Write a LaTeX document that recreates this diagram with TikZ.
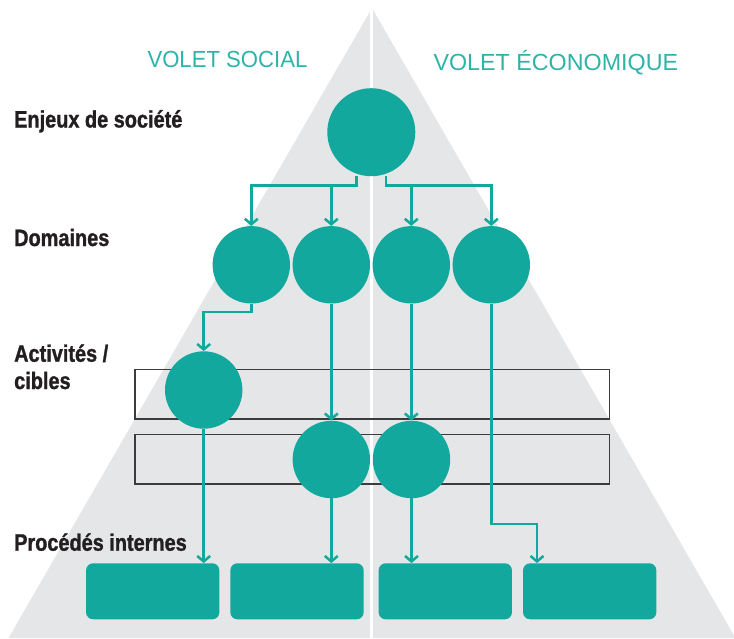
\documentclass[tikz,border=0pt]{standalone}
\usepackage{fontspec}
\setmainfont{Liberation Sans}
\newfontfamily\labfont[FakeStretch=0.84,BoldFeatures={FakeBold=1.2}]{Liberation Sans}
\newfontfamily\socfont[FakeStretch=0.95]{Liberation Sans}
\newfontfamily\ecofont[FakeStretch=1.0]{Liberation Sans}
\usetikzlibrary{arrows.meta}
\definecolor{teal1}{HTML}{13A89D}
\definecolor{tealtxt}{HTML}{2DB3A8}
\definecolor{pyr}{HTML}{E5E6E8}
\definecolor{frame}{HTML}{3C3C3C}
\definecolor{labtxt}{HTML}{231F20}
\pgfdeclarelayer{bg}
\pgfdeclarelayer{lines}
\pgfsetlayers{bg,lines,main}
\begin{document}
\begin{tikzpicture}[x=1pt,y=-1pt,
  bigdot/.style={circle,fill=teal1,inner sep=0pt,minimum size=88pt},
  dot/.style={circle,fill=teal1,inner sep=0pt,minimum size=77.4pt},
  procbox/.style={rectangle,rounded corners=7pt,fill=teal1,minimum width=133.3pt,minimum height=56pt,inner sep=0pt},
  band/.style={rectangle,draw=frame,line width=1.3pt,minimum width=474.3pt,minimum height=49.7pt,inner sep=0pt},
  link/.style={draw=teal1,line width=2.5pt,-{Straight Barb[length=5.5pt,width=13pt]}},
  lab/.style={font=\labfont\bfseries\fontsize{23.7}{27}\selectfont,text=labtxt,inner sep=0pt,anchor=base west},
  volet/.style={text=tealtxt,inner sep=0pt,anchor=base west}]
\useasboundingbox (0,0) rectangle (734,638);

% pyramid background
\begin{pgfonlayer}{bg}
  \clip (0,0) rectangle (734,638);
  \fill[pyr] (372,8) -- (735.5,638) -- (8.5,638) -- cycle;
  \draw[white,line width=3pt] (371.8,0) -- (371.8,640);
  \node[band] (r1) at (372.2,394.2) {};
  \node[band] (r2) at (372.2,459.2) {};
\end{pgfonlayer}

% texts
\node[volet,font=\socfont\fontsize{23.3}{26}\selectfont] (vs) at (147.3,67.3) {VOLET SOCIAL};
\node[volet,font=\ecofont\fontsize{23.3}{26}\selectfont] (ve) at (433.3,70) {VOLET ÉCONOMIQUE};
\node[lab] (l1) at (14,127.5) {Enjeux de société};
\node[lab] (l2) at (14,246) {Domaines};
\node[lab] (l3) at (14,361.7) {Activités /};
\node[lab] (l3b) at (14,389) {cibles};
\node[lab] (l4) at (14,550.7) {Procédés internes};

% circles
\node[bigdot] (top) at (371.3,132.2) {};
\node[dot] (d1) at (251.3,264.8) {};
\node[dot] (d2) at (331.3,264.8) {};
\node[dot] (d3) at (411.3,264.8) {};
\node[dot] (d4) at (491.3,264.8) {};
\node[dot] (a1) at (203.7,390) {};
\node[dot] (b1) at (331.3,459.5) {};
\node[dot] (b2) at (411.5,459.5) {};

% boxes
\node[procbox] (p1) at (152.7,591.3) {};
\node[procbox] (p2) at (297,591.3) {};
\node[procbox] (p3) at (445.3,591.3) {};
\node[procbox] (p4) at (589.7,591.3) {};

\coordinate (jl) at (356.7,185.7);
\coordinate (jr) at (386,185.7);
\coordinate (k4) at (537,524);

\begin{pgfonlayer}{lines}
  \draw[link] (top.south -| jl) -- (jl) -| (d1.north);
  \draw[link] (jl -| d2.north) -- (d2.north);
  \draw[link] (top.south -| jr) -- (jr) -| (d4.north);
  \draw[link] (jr -| d3.north) -- (d3.north);
  \draw[link] (d1.south) -- ++(0,8.5) -| (a1.north);
  \draw[link] (d2.south) -- (b1.north);
  \draw[link] (d3.south) -- (d3.south |- b2.north);
  \draw[link] (a1.south) -- (a1.south |- p1.north);
  \draw[link] (b1.south) -- (b1.south |- p2.north);
  \draw[link] (b2.south) -- (b2.south |- p3.north);
  \draw[link] (d4.south) |- (k4) -- (k4 |- p4.north);
\end{pgfonlayer}
\end{tikzpicture}
\end{document}
